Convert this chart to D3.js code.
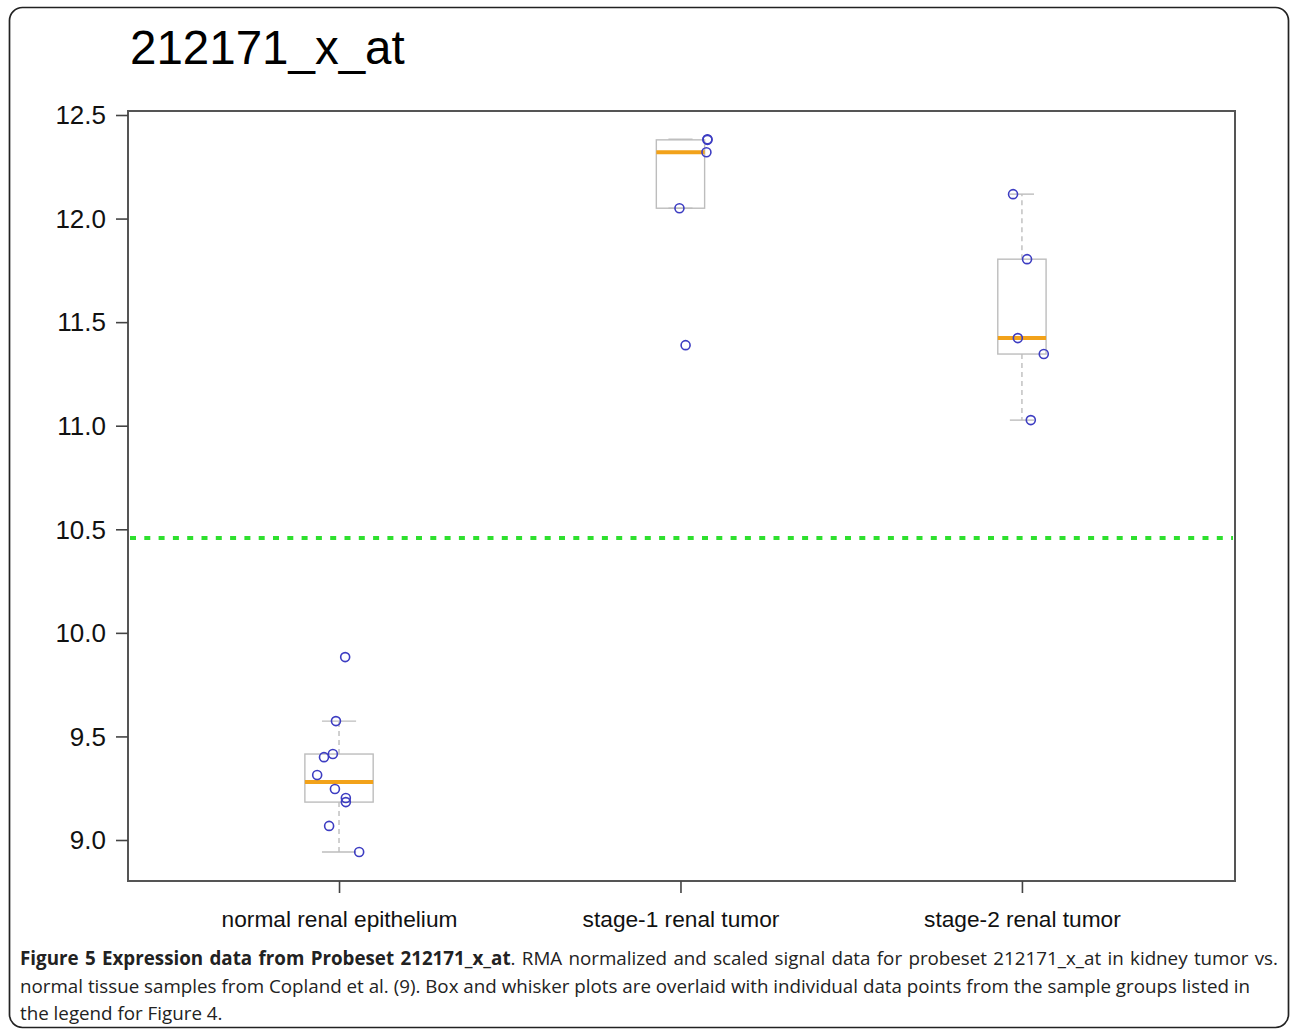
<!DOCTYPE html>
<html>
<head>
<meta charset="utf-8">
<script src="https://cdn.jsdelivr.net/npm/d3@7"></script>
<style>
  html, body { margin: 0; padding: 0; background: #fff; }
  svg { display: block; }
</style>
</head>
<body>
<svg id="chart" width="1290" height="1030"></svg>
<script>
// ---------- data ----------
const title = "212171_x_at";
const categories = ["normal renal epithelium", "stage-1 renal tumor", "stage-2 renal tumor"];
const normalValues = [9.883, 9.574, 9.415, 9.400, 9.314, 9.246, 9.203, 9.183, 9.068, 8.942];
const normalJitter = [0.018, -0.009, -0.018, -0.044, -0.064, -0.012, 0.020, 0.020, -0.029, 0.059];
const stage1Values = [12.383, 12.380, 12.320, 12.050, 11.389];
const stage1Jitter = [0.079, 0.079, 0.076, -0.003, 0.015];
const stage2Values = [12.118, 11.804, 11.423, 11.346, 11.027];
const stage2Jitter = [-0.026, 0.015, -0.012, 0.064, 0.026];
const yTicks = [9.0, 9.5, 10.0, 10.5, 11.0, 11.5, 12.0, 12.5];
const thresholdValue = 10.458;
const captionBold = "Figure 5 Expression data from Probeset 212171_x_at";
const captionLines = [
  ". RMA normalized and scaled signal data for probeset 212171_x_at in kidney tumor vs.",
  "normal tissue samples from Copland et al. (9). Box and whisker plots are overlaid with individual data points from the sample groups listed in",
  "the legend for Figure 4."
];

const groups = [
  { name: categories[0], values: normalValues, jitter: normalJitter },
  { name: categories[1], values: stage1Values, jitter: stage1Jitter },
  { name: categories[2], values: stage2Values, jitter: stage2Jitter }
];

// Tukey five-number summary (as in R's boxplot)
function fivenum(arr) {
  const x = arr.slice().sort(d3.ascending);
  const n = x.length;
  const n4 = Math.floor((n + 3) / 2) / 2;
  const d = [1, n4, (n + 1) / 2, n + 1 - n4, n];
  return d.map(k => 0.5 * (x[Math.floor(k) - 1] + x[Math.ceil(k) - 1]));
}
groups.forEach(g => {
  const f = fivenum(g.values);
  g.q1 = f[1]; g.med = f[2]; g.q3 = f[3];
  const iqr = g.q3 - g.q1;
  const lo = g.q1 - 1.5 * iqr, hi = g.q3 + 1.5 * iqr;
  g.wlo = d3.min(g.values.filter(v => v >= lo));
  g.whi = d3.max(g.values.filter(v => v <= hi));
  g.n = g.values.length;
});

// ---------- layout ----------
const svg = d3.select("#chart");
const plot = { left: 128, right: 1235, top: 111, bottom: 881 };

const x = d3.scaleLinear().domain([0.382, 3.624]).range([plot.left, plot.right]);
const y = d3.scaleLinear().domain([9.0, 12.5]).range([840, 115]);

const chartFont = "'Liberation Sans', Arial, Helvetica, sans-serif";
const captionFont = "'Open Sans', 'Noto Sans', sans-serif";

// outer frame
svg.append("rect")
  .attr("x", 9.5).attr("y", 7.5)
  .attr("width", 1279).attr("height", 1020)
  .attr("rx", 13).attr("ry", 13)
  .attr("fill", "none").attr("stroke", "#222").attr("stroke-width", 1.7);

// title
svg.append("text")
  .attr("x", 130).attr("y", 64)
  .attr("font-family", chartFont).attr("font-size", 47.5)
  .attr("fill", "#000")
  .text(title);

// green threshold line
svg.append("line")
  .attr("x1", plot.left + 2).attr("x2", plot.right - 2)
  .attr("y1", y(thresholdValue)).attr("y2", y(thresholdValue))
  .attr("stroke", "#2ee02e").attr("stroke-width", 4)
  .attr("stroke-dasharray", "6,8.3");

// boxplots
const boxwex = 0.2;
const maxSqrtN = d3.max(groups, g => Math.sqrt(g.n));
const gBox = svg.append("g");
groups.forEach((g, i) => {
  const cx = i + 1;
  const hw = boxwex / 2 * Math.sqrt(g.n) / maxSqrtN;
  const sw = hw / 2;
  const grey = "#bdbdbd";
  gBox.append("line")
    .attr("x1", x(cx)).attr("x2", x(cx))
    .attr("y1", y(g.q3)).attr("y2", y(g.whi))
    .attr("stroke", grey).attr("stroke-width", 1.4).attr("stroke-dasharray", "5,4");
  gBox.append("line")
    .attr("x1", x(cx)).attr("x2", x(cx))
    .attr("y1", y(g.q1)).attr("y2", y(g.wlo))
    .attr("stroke", grey).attr("stroke-width", 1.4).attr("stroke-dasharray", "5,4");
  [g.whi, g.wlo].forEach(v => {
    gBox.append("line")
      .attr("x1", x(cx - sw)).attr("x2", x(cx + sw))
      .attr("y1", y(v)).attr("y2", y(v))
      .attr("stroke", grey).attr("stroke-width", 1.4);
  });
  gBox.append("rect")
    .attr("x", x(cx - hw)).attr("width", x(cx + hw) - x(cx - hw))
    .attr("y", y(g.q3)).attr("height", y(g.q1) - y(g.q3))
    .attr("fill", "none").attr("stroke", grey).attr("stroke-width", 1.4);
  gBox.append("line")
    .attr("x1", x(cx - hw)).attr("x2", x(cx + hw))
    .attr("y1", y(g.med)).attr("y2", y(g.med))
    .attr("stroke", "#f2a21a").attr("stroke-width", 4);
});

// points
groups.forEach((g, i) => {
  svg.append("g").selectAll("circle")
    .data(g.values.map((v, k) => ({ v, j: g.jitter[k] })))
    .join("circle")
    .attr("cx", d => x(i + 1 + d.j))
    .attr("cy", d => y(d.v))
    .attr("r", 4.5)
    .attr("fill", "none")
    .attr("stroke", "#3d3dc2")
    .attr("stroke-width", 1.6);
});

// plot box
svg.append("rect")
  .attr("x", plot.left).attr("y", plot.top)
  .attr("width", plot.right - plot.left).attr("height", plot.bottom - plot.top)
  .attr("fill", "none").attr("stroke", "#555").attr("stroke-width", 2);

// y axis
const yAxis = d3.axisLeft(y).tickValues(yTicks).tickSize(12).tickPadding(10)
  .tickFormat(d3.format(".1f"));
const gy = svg.append("g").attr("transform", `translate(${plot.left},0)`).call(yAxis);
gy.select(".domain").remove();
gy.selectAll(".tick line").attr("stroke", "#444").attr("stroke-width", 1.6);
gy.selectAll(".tick text")
  .attr("font-family", chartFont).attr("font-size", 26).attr("fill", "#111")
  .attr("dy", "0.34em");

// x axis
const xAxis = d3.axisBottom(x).tickValues([1, 2, 3]).tickSize(12).tickPadding(20)
  .tickFormat(d => categories[d - 1]);
const gx = svg.append("g").attr("transform", `translate(0,${plot.bottom})`).call(xAxis);
gx.select(".domain").remove();
gx.selectAll(".tick line").attr("stroke", "#444").attr("stroke-width", 1.6);
gx.selectAll(".tick text")
  .attr("font-family", chartFont).attr("font-size", 22.7).attr("fill", "#111")
  .attr("dy", 0).attr("y", 46);

// caption
const cap = svg.append("g").attr("font-family", captionFont).attr("font-size", 17).attr("fill", "#222");
const l1 = cap.append("text").attr("x", 20).attr("y", 965);
l1.append("tspan").attr("font-weight", "bold").text(captionBold);
l1.append("tspan").text(captionLines[0]);
const l2 = cap.append("text").attr("x", 20).attr("y", 993).text(captionLines[1]);
cap.append("text").attr("x", 20).attr("y", 1020).text(captionLines[2]);

// size the caption so the second line reaches its right end, then justify line 1
const w2 = l2.node().getComputedTextLength();
const capSize = 17 * (1251 - 20) / w2;
cap.attr("font-size", capSize);
const target = 1278 - 20;
const w1 = l1.node().getComputedTextLength();
const spaces = (captionBold + captionLines[0]).split(" ").length - 1;
l1.attr("word-spacing", (target - w1) / spaces);
</script>
</body>
</html>
